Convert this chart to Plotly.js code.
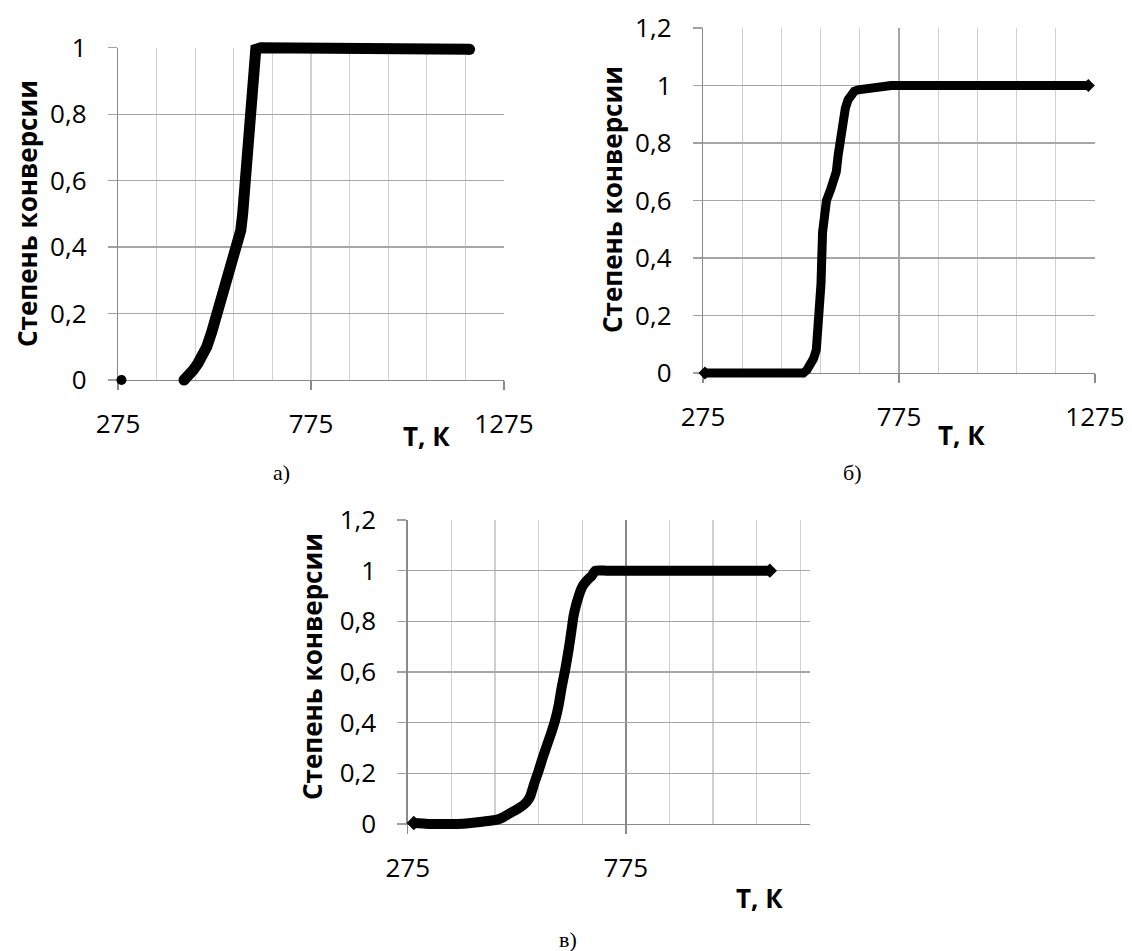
<!DOCTYPE html>
<html>
<head>
<meta charset="utf-8">
<script src="https://cdn.plot.ly/plotly-3.0.1.min.js"></script>
<style>
html,body{margin:0;padding:0;background:#fff;}
#chart{width:1132px;height:951px;}
</style>
</head>
<body>
<div id="chart"></div>
<script>
// ---- data: panel а) ----
const aDotT = [284];
const aDotV = [0];
const aT = [446, 452, 460, 470, 482, 494, 505, 518, 532, 544, 556, 566, 576, 586, 593, 598, 602, 605, 609, 612, 616, 623, 628, 632, 645, 800, 1000, 1186];
const aV = [0, 0.006, 0.016, 0.03, 0.05, 0.075, 0.10, 0.145, 0.20, 0.25, 0.30, 0.33, 0.36, 0.40, 0.45, 0.50, 0.55, 0.60, 0.70, 0.76, 0.80, 0.90, 0.95, 0.995, 1.0, 1.0, 0.997, 0.995];
// ---- data: panel б) ----
const bT = [280, 531, 540, 550, 557, 564, 570, 576, 580, 584, 590, 601, 615, 620, 624, 631, 638, 645, 652, 661, 671, 718, 755, 1258];
const bV = [0, 0, 0.01, 0.03, 0.05, 0.08, 0.16, 0.31, 0.49, 0.55, 0.60, 0.64, 0.70, 0.76, 0.81, 0.87, 0.92, 0.95, 0.97, 0.98, 0.985, 0.996, 1.0, 1.0];
// ---- data: panel в) ----
const cT = [289, 310, 327, 360, 388, 420, 450, 480, 495, 510, 526, 541, 549, 556, 565, 575, 584, 594, 604, 613, 621, 628, 636, 644, 650, 655, 661, 667, 672, 678, 688, 697, 705, 730, 800, 900, 1000, 1105];
const cV = [0.004, 0.002, 0.0, 0.0, 0.0, 0.004, 0.01, 0.017, 0.028, 0.043, 0.058, 0.076, 0.09, 0.11, 0.16, 0.21, 0.26, 0.31, 0.36, 0.41, 0.47, 0.54, 0.61, 0.69, 0.76, 0.82, 0.865, 0.90, 0.925, 0.945, 0.965, 0.98, 1.0, 1.0, 1.0, 1.0, 1.0, 1.0];
// ---- tick labels ----
const xTickVals = [275, 775, 1275];
const xTickText = ['275', '775', '1275'];
const yTickValsA = [0, 0.2, 0.4, 0.6, 0.8, 1];
const yTickTextA = ['0', '0,2', '0,4', '0,6', '0,8', '1'];
const yTickValsBC = [0, 0.2, 0.4, 0.6, 0.8, 1, 1.2];
const yTickTextBC = ['0', '0,2', '0,4', '0,6', '0,8', '1', '1,2'];
const yTitle = 'Степень конверсии';
const xTitle = 'Т, К';
const captions = ['а)', 'б)', 'в)'];

const W = 1132, H = 951;
const fx = p => p / W;
const fy = p => 1 - p / H;

const tickFont = {family: 'Open Sans, sans-serif', size: 26, color: '#000'};
const titleFont = {family: 'Open Sans, sans-serif', size: 26, color: '#000', weight: 'bold'};
const capFont = {family: 'Liberation Serif, Times New Roman, serif', size: 22, color: '#000'};

// panel geometry (pixels) and axis ranges
const panels = [
  {x0: 118, x1: 504, y0: 47.7, y1: 380, xr: [275, 1275], yr: [0, 1]},
  {x0: 703, x1: 1095, y0: 28, y1: 373, xr: [275, 1275], yr: [0, 1.2]},
  {x0: 407.7, x1: 810, y0: 520, y1: 824, xr: [275, 1197], yr: [0, 1.2]}
];

function xAxis(p, anchor, majorGrid) {
  return {
    domain: [fx(p.x0), fx(p.x1)], range: p.xr, anchor: anchor, fixedrange: true,
    tickmode: 'array', tickvals: xTickVals, ticktext: xTickText,
    ticks: 'outside', ticklen: 9, tickwidth: 1.3, tickcolor: '#8a8a8a',
    ticklabelstandoff: 11,
    showline: true, linecolor: '#8a8a8a', linewidth: 1.3,
    showgrid: true, gridcolor: majorGrid, gridwidth: 1.3,
    minor: {tickmode: 'linear', tick0: 275, dtick: 100, showgrid: true, gridcolor: '#d0d0d0', gridwidth: 1.3, ticks: ''},
    zeroline: false, tickfont: tickFont
  };
}
function yAxis(p, anchor, tv, tt) {
  return {
    domain: [fy(p.y1), fy(p.y0)], range: p.yr, anchor: anchor, fixedrange: true,
    tickmode: 'array', tickvals: tv, ticktext: tt,
    ticks: 'outside', ticklen: 9, tickwidth: 1.3, tickcolor: '#a0a0a0',
    ticklabelstandoff: 16,
    showline: true, linecolor: '#8a8a8a', linewidth: 1.3,
    showgrid: true, gridcolor: '#a6a6a6', gridwidth: 1.3,
    zeroline: false, tickfont: tickFont
  };
}
// hidden data axes with the same scale, but a slightly larger area, so thick curves are not cut at the frame
const PAD = 14;
function dataX(p, anchor) {
  const k = (p.xr[1] - p.xr[0]) / (p.x1 - p.x0);
  return {domain: [fx(p.x0 - PAD), fx(p.x1 + PAD)], range: [p.xr[0] - PAD * k, p.xr[1] + PAD * k],
          anchor: anchor, visible: false, showgrid: false, zeroline: false, fixedrange: true};
}
function dataY(p, anchor) {
  const k = (p.yr[1] - p.yr[0]) / (p.y1 - p.y0);
  return {domain: [fy(p.y1 + PAD), fy(p.y0 - PAD)], range: [p.yr[0] - PAD * k, p.yr[1] + PAD * k],
          anchor: anchor, visible: false, showgrid: false, zeroline: false, fixedrange: true};
}

const lineStyle = (w) => ({color: '#000', width: w});
const traces = [
  // these put the visible grid/axes subplots on the page
  {x: [], y: [], xaxis: 'x', yaxis: 'y', mode: 'markers'},
  {x: [], y: [], xaxis: 'x2', yaxis: 'y2', mode: 'markers'},
  {x: [], y: [], xaxis: 'x3', yaxis: 'y3', mode: 'markers'},
  // curves
  {x: aDotT, y: aDotV, xaxis: 'x4', yaxis: 'y4', mode: 'markers', marker: {color: '#000', size: 10}},
  {x: aT, y: aV, xaxis: 'x4', yaxis: 'y4', mode: 'lines', line: lineStyle(11)},
  {x: [aT[0], aT[aT.length - 1]], y: [aV[0], aV[aV.length - 1]], xaxis: 'x4', yaxis: 'y4', mode: 'markers', marker: {color: '#000', size: 11}},
  {x: bT, y: bV, xaxis: 'x5', yaxis: 'y5', mode: 'lines', line: lineStyle(9)},
  {x: [bT[0], bT[bT.length - 1]], y: [bV[0], bV[bV.length - 1]], xaxis: 'x5', yaxis: 'y5', mode: 'markers', marker: {color: '#000', size: 10, symbol: 'diamond'}},
  {x: cT, y: cV, xaxis: 'x6', yaxis: 'y6', mode: 'lines', line: {color: '#000', width: 10, shape: 'spline', smoothing: 0.4}},
  {x: [cT[0], cT[cT.length - 1]], y: [cV[0], cV[cV.length - 1]], xaxis: 'x6', yaxis: 'y6', mode: 'markers', marker: {color: '#000', size: 11, symbol: 'diamond'}}
];

function ann(text, x, y, font, angle) {
  return {text: text, x: fx(x), y: fy(y), xref: 'paper', yref: 'paper', xanchor: 'center', yanchor: 'middle',
          showarrow: false, font: font, textangle: angle || 0};
}

const layout = {
  width: W, height: H, margin: {l: 0, r: 0, t: 0, b: 0},
  paper_bgcolor: '#fff', plot_bgcolor: 'rgba(0,0,0,0)', showlegend: false,
  xaxis: xAxis(panels[0], 'y', '#d0d0d0'),
  yaxis: yAxis(panels[0], 'x', yTickValsA, yTickTextA),
  xaxis2: xAxis(panels[1], 'y2', '#a6a6a6'),
  yaxis2: yAxis(panels[1], 'x2', yTickValsBC, yTickTextBC),
  xaxis3: xAxis(panels[2], 'y3', '#8a8a8a'),
  yaxis3: yAxis(panels[2], 'x3', yTickValsBC, yTickTextBC),
  xaxis4: dataX(panels[0], 'y4'), yaxis4: dataY(panels[0], 'x4'),
  xaxis5: dataX(panels[1], 'y5'), yaxis5: dataY(panels[1], 'x5'),
  xaxis6: dataX(panels[2], 'y6'), yaxis6: dataY(panels[2], 'x6'),
  annotations: [
    ann(yTitle, 27, 214, titleFont, -90),
    ann(yTitle, 612, 200, titleFont, -90),
    ann(yTitle, 312, 667, titleFont, -90),
    ann(xTitle, 426, 436, titleFont),
    ann(xTitle, 961, 435, titleFont),
    ann(xTitle, 759, 898, titleFont),
    ann(captions[0], 281, 472, capFont),
    ann(captions[1], 852, 472, capFont),
    ann(captions[2], 568, 939, capFont)
  ]
};

Plotly.newPlot('chart', traces, layout, {staticPlot: true, displayModeBar: false});
</script>
</body>
</html>
